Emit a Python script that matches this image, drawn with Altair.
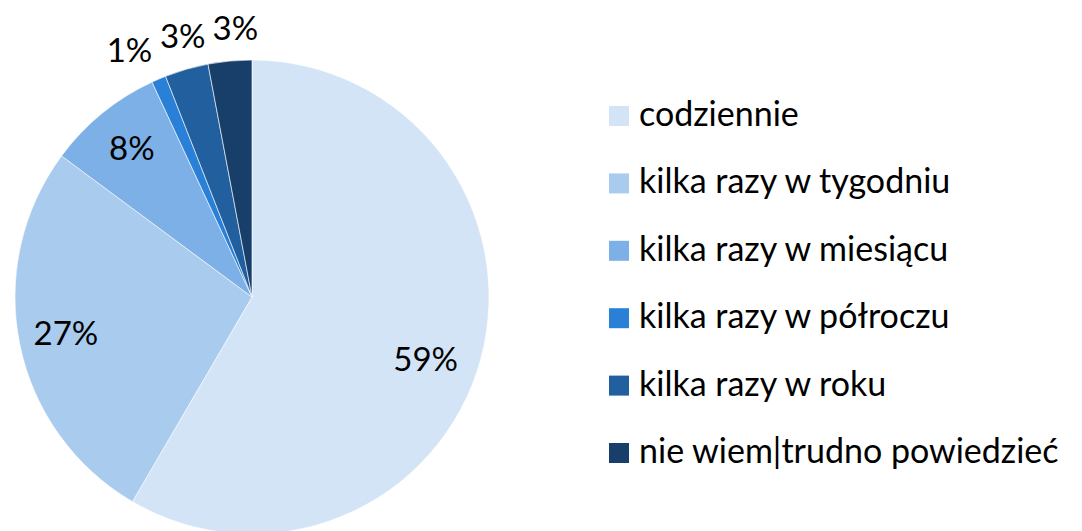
import altair as alt
import pandas as pd

categories = ["codziennie", "kilka razy w tygodniu", "kilka razy w miesiącu",
              "kilka razy w półroczu", "kilka razy w roku", "nie wiem|trudno powiedzieć"]
values = [59, 27, 8, 1, 3, 3]
labels = ["59%", "27%", "8%", "1%", "3%", "3%"]
colors = ["#D3E4F6", "#A9CBEE", "#7DB0E6", "#2A7FD6", "#215F9E", "#173F6A"]

df = pd.DataFrame({"cat": categories, "val": values, "lab": labels,
                   "order": list(range(len(categories)))})

FONT = "Lato"
CX, CY, R = 244, 289, 237

pie = alt.Chart(df).mark_arc(stroke="white", strokeWidth=0.6, clip=True).encode(
    theta=alt.Theta("val:Q", stack=True),
    order=alt.Order("order:Q"),
    color=alt.Color("cat:N", sort=categories,
                    scale=alt.Scale(domain=categories, range=colors),
                    legend=alt.Legend(title=None, orient="none", legendX=594, legendY=91,
                                      symbolType="square", symbolSize=400,
                                      symbolStrokeWidth=0, labelFont=FONT,
                                      labelFontSize=34, labelColor="#000000",
                                      labelOffset=3, rowPadding=33.4,
                                      labelLimit=600)),
    x=alt.value(CX), y=alt.value(CY),
    radius=alt.value(R),
)

# label placement: centroid angle with small collision nudges (like the original)
text = alt.Chart(df).transform_stack(
    stack="val", groupby=[], as_=["v0", "v1"], sort=[alt.SortField("order")]
).transform_calculate(
    nudge="datum.order == 0 ? 1.4 : datum.order == 3 ? -0.95 : datum.order == 4 ? 0.3 : datum.order == 5 ? 0.5 : 0",
    mid="(datum.v0 + datum.v1) / 2 + datum.nudge",
    rr="datum.order == 3 ? 274 : datum.val < 5 ? 268 : datum.order == 0 ? 185 : 190",
).mark_text(font=FONT, fontSize=33, color="#000000").encode(
    theta=alt.Theta("mid:Q", stack=None),
    text="lab:N",
    x=alt.value(CX), y=alt.value(CY),
    radius=alt.Radius("rr:Q", scale=None),
)

chart = alt.layer(pie, text).properties(
    width=1060, height=523, padding=0
).configure_view(stroke=None)

chart.save("out.html", embed_options={"renderer": "svg", "actions": False})
